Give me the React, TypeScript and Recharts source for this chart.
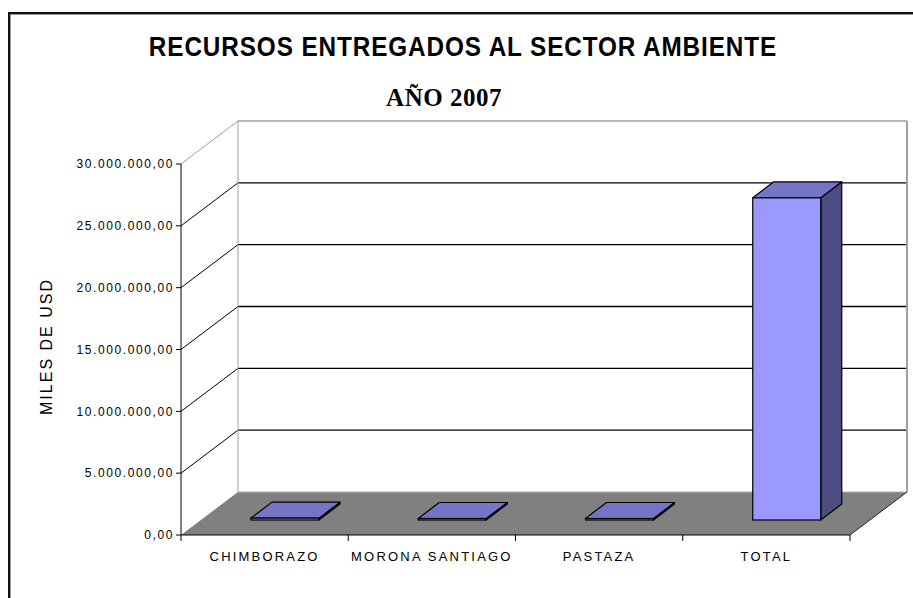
import { BarChart, Bar, XAxis, YAxis, CartesianGrid } from 'recharts';

// datos del gráfico
const categories = ['CHIMBORAZO', 'MORONA SANTIAGO', 'PASTAZA', 'TOTAL'];
const recursos = [150000, 100000, 100000, 26050000];
const yTicks = [0, 5000000, 10000000, 15000000, 20000000, 25000000, 30000000];

const data = categories.map((name, i) => ({ name, valor: recursos[i] }));

// efecto 3D (estilo Excel)
const DEPTH_X = 57;
const DEPTH_Y = -43;
const BAR_SHIFT_X = 20;
const BAR_SHIFT_Y = -15;
const BAR_DX = 21;
const BAR_DY = -16;

const WIDTH = 913;
const HEIGHT = 598;
const PLOT_LEFT = 181;
const PLOT_RIGHT = 850;
const PLOT_TOP = 164;
const PLOT_BOTTOM = 535;
const BAND = (PLOT_RIGHT - PLOT_LEFT) / categories.length;

const AXIS_FONT = '"Liberation Sans", Arial, sans-serif';

const formatMiles = (v: number) => {
  const s = Math.round(v).toString().replace(/\B(?=(\d{3})+(?!\d))/g, '.');
  return s + ',00';
};

// lineas de la pared del fondo, pared izquierda y piso
const WallLine = (props: any) => {
  const { x1, x2, y1, y, height } = props;
  const bx1 = x1 + DEPTH_X;
  const bx2 = x2 + DEPTH_X;
  const by = y1 + DEPTH_Y;
  const isFloor = Math.abs(y1 - (y + height)) < 0.5;
  const isTop = Math.abs(y1 - y) < 0.5;

  if (isFloor) {
    return (
      <g key={props.key}>
        <polygon
          points={`${x1},${y1} ${x2},${y1} ${bx2},${by} ${bx1},${by}`}
          fill="#808080"
          stroke="none"
        />
        <line x1={bx1} y1={by} x2={bx2} y2={by} stroke="#b0b0b0" strokeWidth={1} />
        <line x1={x2} y1={y1} x2={bx2} y2={by} stroke="#222" strokeWidth={1} />
      </g>
    );
  }
  const color = isTop ? '#a0a0a0' : '#000';
  return (
    <g key={props.key}>
      <line x1={x1} y1={y1} x2={bx1} y2={by} stroke={color} strokeWidth={1} />
      <line x1={bx1} y1={by} x2={bx2} y2={by} stroke={color} strokeWidth={1.3} />
      {isTop && (
        <>
          <line x1={bx1} y1={by} x2={bx1} y2={y + height + DEPTH_Y} stroke="#a0a0a0" />
          <line x1={bx2} y1={by} x2={bx2} y2={y + height + DEPTH_Y} stroke="#a0a0a0" strokeWidth={2} />
        </>
      )}
    </g>
  );
};

const Bar3D = (props: any) => {
  const { x, y, width, height } = props;
  const h = Math.max(height, 1.5);
  const fx = x + BAR_SHIFT_X;
  const fy = y + height - h + BAR_SHIFT_Y;
  return (
    <g>
      <polygon
        points={`${fx + width},${fy} ${fx + width + BAR_DX},${fy + BAR_DY} ${fx + width + BAR_DX},${fy + h + BAR_DY} ${fx + width},${fy + h}`}
        fill="#4c4c80"
        stroke="#000"
        strokeWidth={1.2}
        strokeLinejoin="round"
      />
      <polygon
        points={`${fx},${fy} ${fx + width},${fy} ${fx + width + BAR_DX},${fy + BAR_DY} ${fx + BAR_DX},${fy + BAR_DY}`}
        fill="#7575c8"
        stroke="#000"
        strokeWidth={1.2}
        strokeLinejoin="round"
      />
      <rect x={fx} y={fy} width={width} height={h} fill="#9999ff" stroke="#000" strokeWidth={1.2} />
    </g>
  );
};

const CategoryTick = (props: any) => {
  const { x, payload, index } = props;
  const half = BAND / 2;
  return (
    <g>
      <line x1={x - half} y1={PLOT_BOTTOM} x2={x - half} y2={PLOT_BOTTOM + 6} stroke="#000" />
      {index === categories.length - 1 && (
        <line x1={x + half} y1={PLOT_BOTTOM} x2={x + half} y2={PLOT_BOTTOM + 6} stroke="#000" />
      )}
      <text
        x={x}
        y={PLOT_BOTTOM + 26}
        textAnchor="middle"
        fontFamily={AXIS_FONT}
        fontSize={13}
        letterSpacing={2.2}
        fill="#000"
      >
        {payload.value}
      </text>
    </g>
  );
};

const YLabel = (props: any) => {
  const { viewBox } = props;
  const cx = viewBox.x + 46;
  const cy = viewBox.y + viewBox.height / 2 - 3;
  return (
    <text
      x={cx}
      y={cy}
      transform={`rotate(-90 ${cx} ${cy})`}
      textAnchor="middle"
      dominantBaseline="central"
      fontFamily={AXIS_FONT}
      fontSize={16}
      letterSpacing={2}
      fill="#000"
    >
      MILES DE USD
    </text>
  );
};

const App = () => {
  return (
    <div
      style={{
        position: 'absolute',
        left: 0,
        top: 0,
        width: WIDTH,
        height: HEIGHT,
        overflow: 'hidden',
        background: '#fff',
      }}
    >
      <div
        style={{
          position: 'absolute',
          left: 8,
          top: 12,
          width: 1000,
          height: 1000,
          borderLeft: '2px solid #111',
          borderTop: '2px solid #111',
          boxShadow: 'inset 1px 1px 0 #999',
        }}
      />
      <div
        style={{
          position: 'absolute',
          left: 0,
          width: 926,
          top: 32,
          textAlign: 'center',
          fontFamily: '"Liberation Sans Narrow", "Arial Narrow", "Liberation Sans", sans-serif',
          fontWeight: 'bold',
          fontSize: 27,
          letterSpacing: 1,
          lineHeight: '30px',
          transform: 'scaleX(0.9)',
        }}
      >
        RECURSOS ENTREGADOS AL SECTOR AMBIENTE
      </div>
      <div
        style={{
          position: 'absolute',
          left: 0,
          width: 888,
          top: 84,
          textAlign: 'center',
          fontFamily: '"Liberation Serif", "Times New Roman", serif',
          fontWeight: 'bold',
          fontSize: 25,
          letterSpacing: 0.5,
          lineHeight: '28px',
        }}
      >
        AÑO 2007
      </div>
      <div style={{ position: 'absolute', left: 0, top: 0 }}>
        <BarChart
          width={WIDTH}
          height={HEIGHT}
          data={data}
          margin={{ top: PLOT_TOP, right: WIDTH - PLOT_RIGHT, bottom: 0, left: 0 }}
          barSize={68}
        >
          <CartesianGrid vertical={false} horizontal={WallLine} />
          <XAxis
            dataKey="name"
            height={HEIGHT - PLOT_BOTTOM}
            axisLine={{ stroke: '#000' }}
            tickLine={false}
            tickSize={0}
            tick={CategoryTick}
            interval={0}
          />
          <YAxis
            width={PLOT_LEFT}
            domain={[0, 30000000]}
            ticks={yTicks}
            tickFormatter={formatMiles}
            axisLine={{ stroke: '#000' }}
            tickLine={{ stroke: '#000' }}
            tickSize={5}
            tickMargin={2}
            tick={{ fill: '#000', fontSize: 12, fontFamily: AXIS_FONT, letterSpacing: 1.6 }}
            label={YLabel}
          />
          <Bar dataKey="valor" shape={Bar3D} isAnimationActive={false} />
        </BarChart>
      </div>
    </div>
  );
};

export default App;
